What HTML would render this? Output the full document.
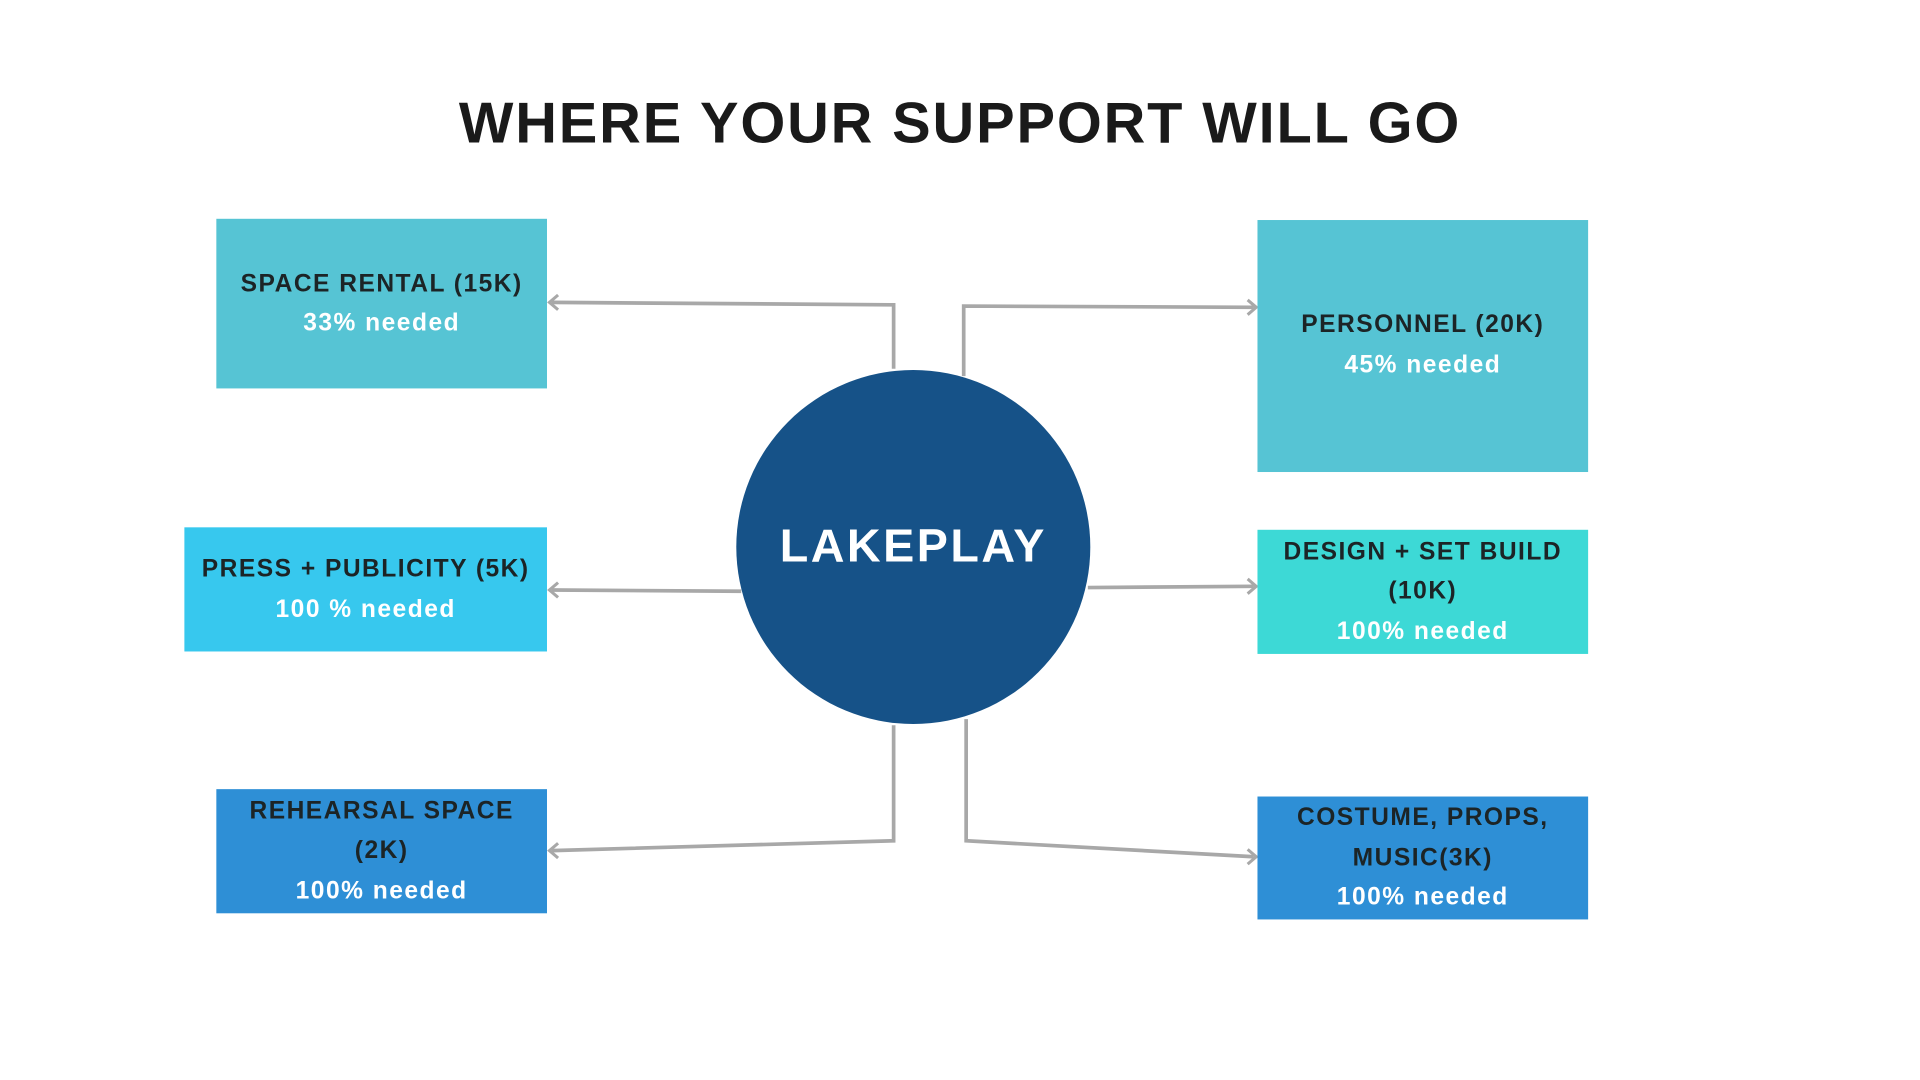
<!DOCTYPE html>
<html><head><meta charset="utf-8"><style>
html,body{margin:0;padding:0;background:#fff;width:1920px;height:1080px;overflow:hidden}
#s{position:absolute;left:0;top:0;width:1562px;height:879px;transform:scale(1.2292);transform-origin:0 0;font-family:"Liberation Sans",sans-serif}
.t{position:absolute;left:0;width:1562px;top:72px;text-align:center;font-weight:bold;font-size:47px;letter-spacing:1.5px;color:#1a1a1a}
.b{position:absolute;display:flex;flex-direction:column;justify-content:center;align-items:center;text-align:center;font-weight:bold;font-size:20px;letter-spacing:1.2px;line-height:32.5px}
.d{color:#1c2426}.w{color:#fff}
.c{position:absolute;left:599px;top:301px;width:288px;height:288px;border-radius:50%;background:#165288;color:#fff;font-weight:bold;font-size:38px;letter-spacing:2px;display:flex;align-items:center;justify-content:center}
svg{position:absolute;left:0;top:0}
</style></head><body><div id="s">
<div class="t">WHERE YOUR SUPPORT WILL GO</div>
<svg width="1562" height="879"><g stroke="#a8a8a8" stroke-width="3" fill="none">
<polyline points="727,300 727,248 449,246"/>
<polyline points="784,306 784,249 1020,250"/>
<polyline points="603,481 449,480"/>
<polyline points="885,478 1020,477"/>
<polyline points="727,590 727,684 449,692"/>
<polyline points="786,585 786,684 1020,697"/>
<g stroke-width="2.5"><polyline points="454,240 447,246 454,252"/><polyline points="1015,244 1022,250 1015,256"/>
<polyline points="454,474 447,480 454,486"/><polyline points="1015,471 1022,477 1015,483"/>
<polyline points="454,686 447,692 454,698"/><polyline points="1015,691 1022,697 1015,703"/></g>
</g></svg>
<div class="c">LAKEPLAY</div>
<div class="b" style="left:176px;top:178px;width:269px;height:138px;background:#56c4d4"><div class="d">SPACE RENTAL (15K)</div><div class="w">33% needed</div></div>
<div class="b" style="left:150px;top:429px;width:295px;height:101px;background:#37c8ee"><div class="d">PRESS + PUBLICITY (5K)</div><div class="w">100 % needed</div></div>
<div class="b" style="left:176px;top:642px;width:269px;height:101px;background:#2e8fd6"><div class="d">REHEARSAL SPACE<br>(2K)</div><div class="w">100% needed</div></div>
<div class="b" style="left:1023px;top:179px;width:269px;height:205px;background:#56c4d4;justify-content:flex-start;padding-top:69px;box-sizing:border-box"><div class="d">PERSONNEL (20K)</div><div class="w">45% needed</div></div>
<div class="b" style="left:1023px;top:431px;width:269px;height:101px;background:#3dd9d6"><div class="d">DESIGN + SET BUILD<br>(10K)</div><div class="w">100% needed</div></div>
<div class="b" style="left:1023px;top:648px;width:269px;height:100px;background:#2e8fd6"><div class="d">COSTUME, PROPS,<br>MUSIC(3K)</div><div class="w">100% needed</div></div>
</div></body></html>
